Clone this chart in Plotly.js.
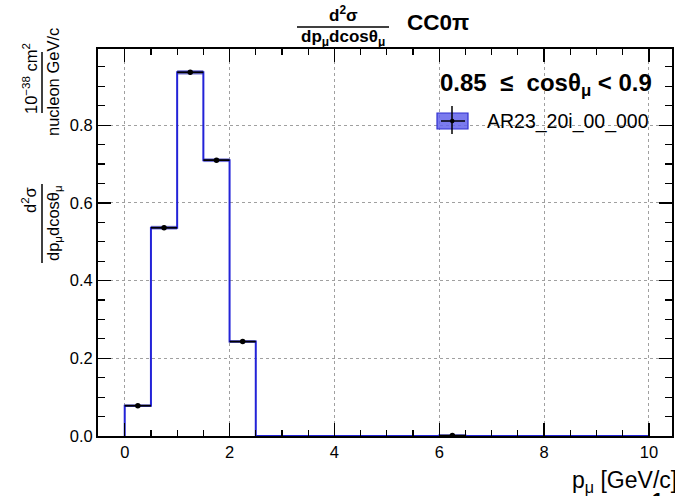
<!DOCTYPE html>
<html>
<head>
<meta charset="utf-8">
<script src="https://cdn.plot.ly/plotly-3.0.1.min.js"></script>
<style>html,body{margin:0;padding:0;background:#fff;}#plot{width:675px;height:496px;}</style>
</head>
<body>
<div id="plot"></div>
<script>
// ---- data ----
const binEdges = [0,0.5,1,1.5,2,2.5,3,3.5,4,4.5,5,5.5,6,6.5,7,7.5,8,8.5,9,9.5,10];
const binValues = [0.078,0.536,0.936,0.710,0.243,0,0,0,0,0,0,0,0.001,0,0,0,0,0,0,0];
const binErrors = [0.003,0.005,0.006,0.005,0.003,0,0,0,0,0,0,0,0.0005,0,0,0,0,0,0,0];
const legendLabel = "AR23_20i_00_000";
const xTickVals = [0,2,4,6,8,10];
const yTickVals = [0,0.2,0.4,0.6,0.8];

// ---- derived ----
const centers = binValues.map((v,i)=> (binEdges[i]+binEdges[i+1])/2);
const widths = binValues.map((v,i)=> binEdges[i+1]-binEdges[i]);
const stepX = [binEdges[0]].concat(binEdges);
const stepY = [0].concat(binValues, [binValues[binValues.length-1]]);
const nz = binValues.map((v,i)=>i).filter(i=>binValues[i]>0);

const band = {
  type:'bar', x:centers, y:binErrors.map(e=>2*e), base:binValues.map((v,i)=>v-binErrors[i]),
  width:widths, marker:{color:'rgba(110,110,200,0.75)', line:{width:0}}, showlegend:false, hoverinfo:'skip'
};
const hist = {
  type:'scatter', mode:'lines', x:stepX, y:stepY, line:{shape:'hv', color:'#2323d8', width:2},
  showlegend:false, hoverinfo:'skip'
};
const pts = {
  type:'scatter', mode:'markers',
  x:nz.map(i=>centers[i]), y:nz.map(i=>binValues[i]),
  marker:{color:'black', size:5.5},
  error_x:{type:'data', array:nz.map(i=>widths[i]/2), color:'black', thickness:1.8, width:0},
  error_y:{type:'data', array:nz.map(i=>binErrors[i]), color:'black', thickness:1.5, width:0},
  showlegend:false, hoverinfo:'skip'
};

// pixel -> paper helpers for decorations
const L=98, R=672, T=49, B=436;
const PX = x => (x-L)/(R-L);
const PY = y => (B-y)/(B-T);
const F = 'Liberation Sans, Arial, Helvetica, sans-serif';

function ann(text,x,y,size,opts){
  return Object.assign({text:text, xref:'paper', yref:'paper', x:PX(x), y:PY(y), showarrow:false,
    font:{family:F,size:size,color:'black'}, xanchor:'center', yanchor:'middle'}, opts||{});
}
function line(x0,y0,x1,y1,w,c){
  return {type:'line', xref:'paper', yref:'paper', x0:PX(x0), y0:PY(y0), x1:PX(x1), y1:PY(y1),
    line:{color:c||'black', width:w||1.5}};
}

const annotations = [
  // title
  ann('<b>d<sup>2</sup>σ</b>',343,14,17),
  ann('<b>dp<sub>μ</sub>dcosθ<sub>μ</sub></b>',343,38,17),
  ann('<b>CC0π</b>',438,22,22.5),
  // y title (two fractions, rotated)
  ann('10<sup>−38</sup> cm<sup>2</sup>',30,79,16.5,{textangle:-90}),
  ann('nucleon GeV/c',53,82,16.5,{textangle:-90}),
  ann('d<sup>2</sup>σ',29,200,16.5,{textangle:-90}),
  ann('dp<sub>μ</sub>dcosθ<sub>μ</sub>',54,223,16.5,{textangle:-90}),
  // x title
  ann('p<sub>μ</sub> [GeV/c]',679,481,23,{xanchor:'right'}),
  ann('<b>1</b>',657,487,20,{yanchor:'top'}),
  // legend
  ann('<b>0.85  ≤  cosθ<sub>μ</sub> &lt; 0.9</b>',546,84,24),
  ann(legendLabel,485,121,19.5,{xanchor:'left'})
];

const shapes = [
  line(297,27,389,27,1.5),
  line(42,52,42,113,1.5),
  line(42,184,42,263,1.5),
  {type:'rect', xref:'paper', yref:'paper', x0:PX(437), x1:PX(468), y0:PY(129), y1:PY(113),
    fillcolor:'rgba(100,100,235,0.85)', line:{color:'#3030d0', width:1.2}},
  line(441,121,465,121,1.5),
  line(452,106,452,134,1.5),
  {type:'circle', xref:'paper', yref:'paper', x0:PX(450), x1:PX(454.5), y0:PY(123.2), y1:PY(118.8),
    fillcolor:'black', line:{color:'black', width:0}}
];

const axisCommon = {
  showline:true, linecolor:'black', linewidth:2, mirror:'allticks',
  ticks:'inside', tickcolor:'black', tickwidth:1.3,
  showgrid:true, gridcolor:'#a0a0a0', griddash:'dot', gridwidth:1,
  zeroline:false, tickfont:{family:F,size:16.5,color:'black'}
};

const layout = {
  width:675, height:496,
  margin:{l:L, r:675-R, t:T, b:496-B, pad:0},
  paper_bgcolor:'white', plot_bgcolor:'white',
  showlegend:false, barmode:'overlay',
  xaxis:Object.assign({}, axisCommon, {range:[-0.51,10.44], tickvals:xTickVals, ticklen:13,
    minor:{dtick:0.5, tick0:0, ticks:'inside', ticklen:6, tickcolor:'black', tickwidth:1.2, showgrid:false}}),
  yaxis:Object.assign({}, axisCommon, {range:[0,0.996], tickvals:yTickVals, tickformat:'.1f', ticklen:13,
    minor:{dtick:0.05, tick0:0, ticks:'inside', ticklen:7, tickcolor:'black', tickwidth:1.2, showgrid:false}}),
  annotations:annotations, shapes:shapes
};

Plotly.newPlot('plot',[band,hist,pts],layout,{displayModeBar:false, staticPlot:true});
</script>
</body>
</html>
